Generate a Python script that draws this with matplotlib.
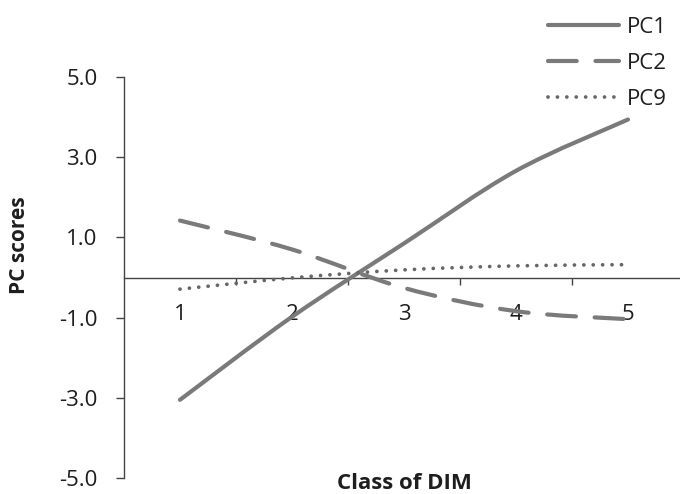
import numpy as np
import matplotlib
matplotlib.use('Agg')
from matplotlib import pyplot as plt
from matplotlib.path import Path
from matplotlib.patches import PathPatch
from matplotlib.lines import Line2D

plt.rcParams['font.family'] = ['Open Sans', 'DejaVu Sans']

# data -----------------------------------------------------------
classes = [1, 2, 3, 4, 5]
pc1 = [-3.05, -0.98, 0.85, 2.66, 3.94]
pc2 = [1.42, 0.70, -0.26, -0.84, -1.04]
pc9 = [-0.29, -0.01, 0.19, 0.29, 0.32]
series_names = ['PC1', 'PC2', 'PC9']
y_ticks = [5.0, 3.0, 1.0, -1.0, -3.0, -5.0]

line_col = '#7a7a7a'
text_col = '#1e1e1e'
axis_col = '#444444'

# smooth line like a spreadsheet chart (bezier through the points)
def smooth_path(xs, ys):
    pts = np.column_stack([xs, ys]).astype(float)
    n = len(pts)
    verts = [pts[0]]
    codes = [Path.MOVETO]
    for i in range(n - 1):
        p0 = pts[i - 1] if i > 0 else pts[i]
        p1 = pts[i]
        p2 = pts[i + 1]
        p3 = pts[i + 2] if i + 2 < n else pts[i + 1]
        verts += [p1 + (p2 - p0) / 6.0, p2 - (p3 - p1) / 6.0, p2]
        codes += [Path.CURVE4] * 3
    return Path(verts, codes)

fig = plt.figure(figsize=(6.8, 4.94), dpi=100)
ax = fig.add_axes([124/680, 1 - 478/494, 560/680, 401/494])

styles = [
    dict(lw=3.0, ls='-', color=line_col),
    dict(lw=3.0, ls=(0, (6.9, 4.5)), color=line_col),
    dict(lw=2.7, ls=(0, (0.01, 2.5)), color='#666666'),
]

handles = []
for vals, st, name in zip([pc1, pc2, pc9], styles, series_names):
    p = PathPatch(smooth_path(classes, vals), fill=False, edgecolor=st['color'],
                  lw=st['lw'], linestyle=st['ls'], capstyle='round', zorder=3)
    ax.add_patch(p)
    handles.append(Line2D([], [], color=st['color'], lw=st['lw'], ls=st['ls'],
                          dash_capstyle='round', solid_capstyle='round'))

ax.set_xlim(0.5, 5.5)
ax.set_ylim(-5, 5)

for s in ['top', 'right']:
    ax.spines[s].set_visible(False)
ax.spines['bottom'].set_position(('data', 0))
ax.spines['bottom'].set_color(axis_col)
ax.spines['left'].set_color(axis_col)
ax.spines['bottom'].set_linewidth(1.0)
ax.spines['left'].set_linewidth(1.0)

ax.set_yticks(y_ticks)
ax.set_yticklabels(['%.1f' % v for v in y_ticks])
ax.tick_params(axis='y', direction='out', length=6, width=1, color=axis_col,
               pad=13, labelsize=16, labelcolor=text_col)

# tick marks between the classes, labels on the classes
ax.set_xticks([c + 0.5 for c in classes[:-1]])
ax.set_xticklabels([])
ax.tick_params(axis='x', which='major', direction='out', length=5, width=1, color=axis_col)
ax.set_xticks(classes, minor=True)
ax.set_xticklabels([str(c) for c in classes], minor=True)
ax.tick_params(axis='x', which='minor', length=0, pad=19, labelsize=16, labelcolor=text_col)

fig.text(20/680, 1 - 245/494, 'PC scores', rotation=90, ha='center', va='center',
         fontsize=15, fontweight='bold', color=text_col)
fig.text(404/680, 1 - 483/494, 'Class of DIM', ha='center', va='center',
         fontsize=16, fontweight='bold', color=text_col)

fig.legend(handles, series_names, loc='upper left', bbox_to_anchor=(548/680, 1 - 17/494),
           frameon=False, fontsize=16, handlelength=3.2, handletextpad=0.35,
           labelspacing=0.68, borderpad=0, borderaxespad=0, labelcolor=text_col)

fig.savefig('out.png', dpi=100)
